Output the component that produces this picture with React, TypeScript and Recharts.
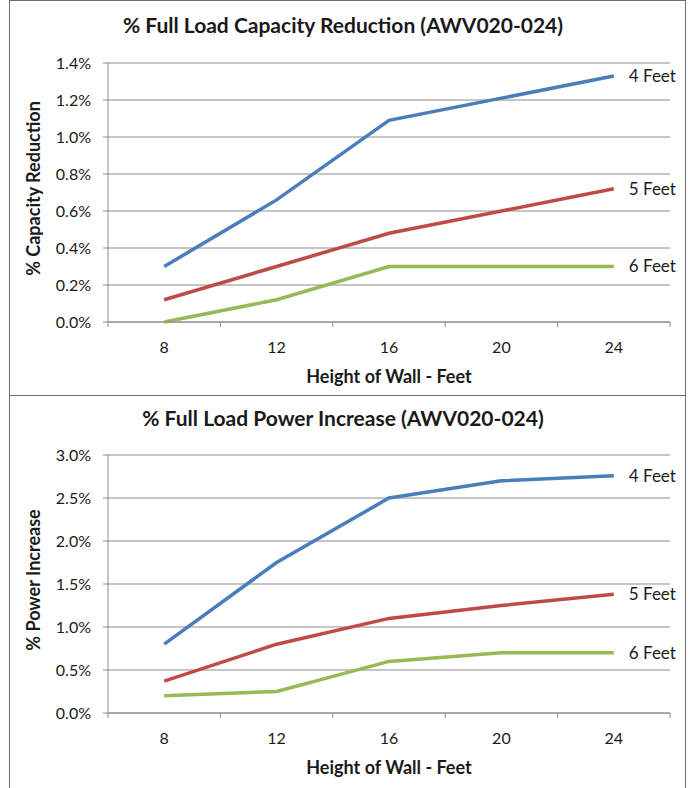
import React from 'react';
import { LineChart, Line, XAxis, YAxis, CartesianGrid, LabelList, Label } from 'recharts';

const heights = [8, 12, 16, 20, 24];
const boundaries = [6, 10, 14, 18, 22, 26];
const seriesNames = ['4 Feet', '5 Feet', '6 Feet'];
const seriesColors = ['#4A7EBB', '#BE4B48', '#98B954'];

const capacity4 = [0.30, 0.66, 1.09, 1.21, 1.33];
const capacity5 = [0.12, 0.30, 0.48, 0.60, 0.72];
const capacity6 = [0.00, 0.12, 0.30, 0.30, 0.30];
const capacityTicks = [0, 0.2, 0.4, 0.6, 0.8, 1.0, 1.2, 1.4];

const power4 = [0.80, 1.75, 2.50, 2.70, 2.76];
const power5 = [0.37, 0.80, 1.10, 1.25, 1.38];
const power6 = [0.20, 0.25, 0.60, 0.70, 0.70];
const powerTicks = [0, 0.5, 1.0, 1.5, 2.0, 2.5, 3.0];

const FONT = 'Lato, "Open Sans", sans-serif';
const GRID = '#8C8C8C';
const TEXT = '#1a1a1a';

function buildRows(a: number[], b: number[], c: number[]) {
  return heights.map((h, i) => ({ h, s4: a[i], s5: b[i], s6: c[i] }));
}

const xTicks = [...boundaries, ...heights].sort((p, q) => p - q);

function XTick(props: any) {
  const { x, y, payload } = props;
  const v = payload.value;
  if (heights.includes(v)) {
    return (
      <text x={x} y={y + 31} textAnchor="middle" fontSize={16} fontFamily={FONT} fill={TEXT}>
        {v}
      </text>
    );
  }
  return <line x1={x} x2={x} y1={y} y2={y + 5} stroke={GRID} strokeWidth={1} />;
}

function endLabel(name: string) {
  return (p: any) => {
    if (p.index !== heights.length - 1) return null;
    return (
      <text x={p.x + 15} y={p.y} dy="0.35em" textAnchor="start" fontSize={17} fontFamily={FONT} fill={TEXT}>
        {name}
      </text>
    );
  };
}

function YTitle(text: string) {
  return (p: any) => {
    const vb = p.viewBox;
    const cx = vb.x + 24;
    const cy = vb.y + vb.height / 2 - 4;
    return (
      <text x={cx} y={cy} transform={`rotate(-90 ${cx} ${cy})`} textAnchor="middle" dy="0.35em"
        fontSize={18} fontWeight="bold" fontFamily={FONT} fill={TEXT}>
        {text}
      </text>
    );
  };
}

function XTitle(text: string) {
  return (p: any) => {
    const vb = p.viewBox;
    return (
      <text x={vb.x + vb.width / 2} y={vb.y + 61} textAnchor="middle"
        fontSize={18} fontWeight="bold" fontFamily={FONT} fill={TEXT}>
        {text}
      </text>
    );
  };
}

type PanelProps = {
  top: number;
  height: number;
  title: string;
  titleTop: number;
  yTitle: string;
  rows: any[];
  yTicks: number[];
  yMax: number;
  marginTop: number;
  xHeight: number;
};

function Panel({ top, height, title, titleTop, yTitle, rows, yTicks, yMax, marginTop, xHeight }: PanelProps) {
  const keys = ['s4', 's5', 's6'];
  return (
    <>
      <div style={{ position: 'absolute', left: 9, top, width: 677, height: height + 1, border: '1px solid #6f6f6f', boxSizing: 'border-box' }} />
      <div style={{ position: 'absolute', left: 10, top, width: 676, height }}>
        <div style={{ position: 'absolute', left: 0, top: titleTop, width: 666, textAlign: 'center', fontFamily: FONT, fontWeight: 'bold', fontSize: 21, lineHeight: '24px', color: TEXT, whiteSpace: 'nowrap' }}>
          {title}
        </div>
        <LineChart width={676} height={height} data={rows} margin={{ top: marginTop, right: 16, bottom: 0, left: 0 }}>
          <CartesianGrid vertical={false} stroke={GRID} strokeWidth={1} />
          <XAxis dataKey="h" type="number" domain={[6, 26]} ticks={xTicks} interval={0}
            tickSize={0} tickMargin={0} tickLine={false} axisLine={{ stroke: GRID }}
            tick={<XTick />} height={xHeight} allowDataOverflow>
            <Label content={XTitle('Height of Wall - Feet')} />
          </XAxis>
          <YAxis type="number" domain={[0, yMax]} ticks={yTicks} interval={0} width={98}
            tickSize={5} tickMargin={12} tickLine={{ stroke: GRID }} axisLine={{ stroke: GRID }}
            tickFormatter={(v: number) => v.toFixed(1) + '%'}
            tick={{ fontSize: 16, fontFamily: FONT, fill: TEXT }}>
            <Label content={YTitle(yTitle)} />
          </YAxis>
          {keys.map((k, i) => (
            <Line key={k} dataKey={k} stroke={seriesColors[i]} strokeWidth={3.5} dot={false}
              isAnimationActive={false} type="linear">
              <LabelList dataKey={k} content={endLabel(seriesNames[i])} />
            </Line>
          ))}
        </LineChart>
      </div>
    </>
  );
}

export default function App() {
  return (
    <div style={{ position: 'absolute', left: 0, top: 0, width: 695, height: 788, background: '#fff', overflow: 'hidden' }}>
      <Panel top={0} height={395} title="% Full Load Capacity Reduction (AWV020-024)" titleTop={13}
        yTitle="% Capacity Reduction" rows={buildRows(capacity4, capacity5, capacity6)}
        yTicks={capacityTicks} yMax={1.4} marginTop={63} xHeight={73} />
      <Panel top={395} height={393} title="% Full Load Power Increase (AWV020-024)" titleTop={11}
        yTitle="% Power Increase" rows={buildRows(power4, power5, power6)}
        yTicks={powerTicks} yMax={3.0} marginTop={60} xHeight={75} />
    </div>
  );
}
